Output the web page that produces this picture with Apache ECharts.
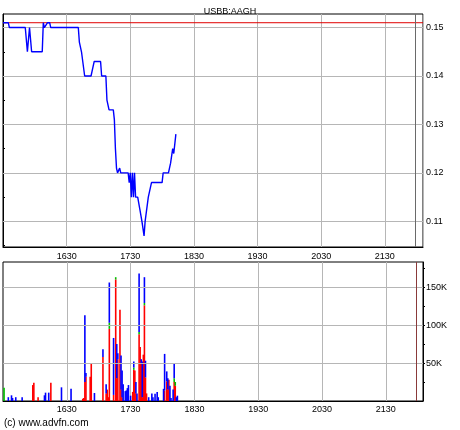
<!DOCTYPE html>
<html>
<head>
<meta charset="utf-8">
<script src="https://cdn.jsdelivr.net/npm/echarts@6/dist/echarts.min.js"></script>
<style>
html, body { margin: 0; padding: 0; background: #fff; }
#chart { width: 460px; height: 430px; }
</style>
</head>
<body>
<div id="chart"></div>
<script>
// price trace, clock times (GMT) and last trade price
const priceTimes = ['15:30', '15:35', '15:36', '15:51', '15:53', '15:54', '15:55', '15:56', '15:57', '16:07',
    '16:08', '16:09', '16:12', '16:14', '16:15', '16:41', '16:42', '16:44', '16:45', '16:47',
    '16:53', '16:56', '17:02', '17:03', '17:07', '17:08', '17:10', '17:14', '17:15', '17:16',
    '17:17', '17:18', '17:20', '17:21', '17:28', '17:29', '17:30', '17:31', '17:32', '17:33',
    '17:34', '17:35', '17:37', '17:39', '17:41', '17:43', '17:44', '17:47', '17:48', '17:50',
    '18:00', '18:01', '18:06', '18:08', '18:09', '18:10', '18:11', '18:13'];
const priceValues = [0.151, 0.151, 0.150, 0.150, 0.145, 0.145, 0.150, 0.150, 0.145, 0.145,
    0.151, 0.150, 0.151, 0.151, 0.150, 0.150, 0.147, 0.145, 0.145, 0.140,
    0.140, 0.143, 0.143, 0.140, 0.140, 0.135, 0.133, 0.133, 0.131, 0.125,
    0.121, 0.120, 0.121, 0.120, 0.120, 0.118, 0.120, 0.115, 0.120, 0.115,
    0.120, 0.115, 0.115, 0.1125, 0.110, 0.107, 0.110, 0.115, 0.115, 0.118,
    0.118, 0.120, 0.120, 0.122, 0.122, 0.125, 0.124, 0.128];

// volume per minute, split by trade type (stacked red / green / blue)
const volumeTimes = ['15:31', '15:35', '15:38', '15:39', '15:42', '15:48', '15:58', '15:59', '16:03', '16:09',
    '16:10', '16:13', '16:15', '16:25', '16:34', '16:45', '16:46', '16:47', '16:48', '16:52',
    '16:53', '16:56', '17:04', '17:07', '17:08', '17:09', '17:10', '17:14', '17:16', '17:17',
    '17:18', '17:20', '17:21', '17:22', '17:23', '17:25', '17:26', '17:27', '17:28', '17:30',
    '17:32', '17:33', '17:34', '17:35', '17:36', '17:38', '17:39', '17:40', '17:41', '17:42',
    '17:43', '17:44', '17:45', '17:47', '17:50', '17:51', '17:53', '17:55', '17:56', '18:01',
    '18:02', '18:04', '18:05', '18:06', '18:07', '18:08', '18:10', '18:11', '18:12', '18:13',
    '18:14'];
const volumeRed = [0, 0, 0, 0, 0, 0, 21000, 24000, 5000, 0,
    0, 0, 24000, 0, 0, 3000, 4000, 25000, 32000, 32000,
    50000, 0, 58000, 10000, 15000, 5000, 95000, 8000, 160000, 30000,
    55000, 120000, 15000, 5000, 0, 0, 0, 0, 0, 0,
    12000, 41000, 40000, 10000, 0, 88000, 71000, 50000, 5000, 61000,
    126000, 31000, 10000, 0, 0, 0, 0, 0, 0, 0,
    14000, 26000, 15000, 28000, 0, 0, 0, 25000, 20000, 0,
    0];
const volumeGreen = [17500, 0, 0, 0, 0, 0, 0, 0, 0, 0,
    0, 0, 0, 0, 0, 0, 0, 0, 0, 0,
    0, 0, 0, 0, 0, 0, 8000, 0, 3000, 0,
    0, 0, 0, 0, 0, 0, 0, 0, 0, 0,
    0, 3000, 0, 0, 0, 3000, 0, 0, 0, 0,
    3000, 0, 0, 0, 0, 0, 0, 0, 0, 0,
    0, 0, 0, 0, 0, 0, 0, 5000, 5000, 0,
    0];
const volumeBlue = [0, 5000, 7500, 4000, 5000, 5000, 0, 0, 0, 7500,
    11000, 11000, 0, 18000, 16000, 0, 0, 88000, 5000, 0,
    0, 10500, 10000, 12000, 0, 0, 53000, 75000, 0, 45000,
    8000, 0, 45000, 35000, 22000, 13000, 14000, 17000, 21000, 7000,
    0, 8000, 0, 15000, 10000, 77000, 0, 5000, 47000, 0,
    34000, 22000, 0, 5000, 10000, 5000, 9600, 12000, 5000, 16000,
    48000, 13000, 15000, 0, 20000, 4000, 15000, 20000, 0, 5000,
    7000];

const hourLabels = ['1630', '1730', '1830', '1930', '2030', '2130'];
const priceLabels = [0.11, 0.12, 0.13, 0.14, 0.15];
const priceTicks = [0.105, 0.11, 0.115, 0.12, 0.125, 0.13, 0.135, 0.14, 0.145, 0.15];
const volumeLabels = [50000, 100000, 150000];
const volumeTicks = [25000, 50000, 75000, 100000, 125000, 150000, 175000];
const prevClose = 0.151;
const closeTime = '21:59';

const START = 15 * 60 + 30;   // left edge of both panels
const SPAN = 396;             // minutes shown
const toMin = (t) => {
    const [h, m] = t.split(':').map(Number);
    return h * 60 + m - START;
};

// one category per minute for the volume panel, so the three parts stack
const minutes = [];
for (let i = 0; i < SPAN; i++) minutes.push(i);
const perMinute = (values) => {
    const out = minutes.map(() => 0);
    volumeTimes.forEach((t, i) => { out[toMin(t)] = values[i]; });
    return out;
};

const font = 'Liberation Sans, Arial, sans-serif';
const gridColor = '#b6b6b6';
const labelStyle = { color: '#000', fontSize: 9, fontFamily: font };
const isHour = (i) => i > 0 && i % 60 === 0;

const chart = echarts.init(document.getElementById('chart'));

const option = {
    animation: false,
    title: {
        text: 'USBB:AAGH',
        left: 'center',
        top: 2,
        textStyle: { fontSize: 9, fontWeight: 'normal', fontFamily: font, color: '#000' }
    },
    graphic: [{
        type: 'text',
        left: 4,
        top: 418,
        style: { text: '(c) www.advfn.com', fontSize: 10, fontFamily: font, fill: '#000' }
    }],
    grid: [
        { left: 3, right: 37, top: 14, height: 233, show: true, borderColor: '#000', borderWidth: 1, backgroundColor: 'transparent' },
        { left: 3, right: 37, top: 262, height: 139, show: true, borderColor: '#000', borderWidth: 1, backgroundColor: 'transparent' }
    ],
    xAxis: [
        {
            type: 'value',
            gridIndex: 0,
            min: 0,
            max: SPAN,
            interval: 60,
            axisLine: { show: true, lineStyle: { color: '#000' } },
            axisTick: { show: false },
            axisLabel: Object.assign({}, labelStyle, {
                margin: 5,
                showMinLabel: false,
                showMaxLabel: false,
                formatter: (v) => hourLabels[v / 60 - 1] || ''
            }),
            splitLine: { show: true, lineStyle: { color: gridColor, width: 1 } }
        },
        {
            type: 'category',
            gridIndex: 1,
            data: minutes,
            boundaryGap: false,
            axisLine: { show: true, lineStyle: { color: '#000' } },
            axisTick: { show: false },
            axisLabel: Object.assign({}, labelStyle, {
                margin: 4,
                interval: (i) => isHour(i),
                formatter: (v) => hourLabels[v / 60 - 1] || ''
            }),
            splitLine: { show: true, interval: (i) => isHour(i), lineStyle: { color: gridColor, width: 1 } }
        }
    ],
    yAxis: [
        {
            type: 'value',
            gridIndex: 0,
            position: 'right',
            min: 0.1047,
            max: 0.1528,
            splitNumber: 5,
            axisLine: { show: true, lineStyle: { color: '#000' } },
            axisTick: { show: true, inside: false, length: 2, customValues: priceTicks, lineStyle: { color: '#000' } },
            axisLabel: Object.assign({}, labelStyle, {
                margin: 3,
                customValues: priceLabels,
                formatter: (v) => v.toFixed(2)
            }),
            splitLine: { show: false }
        },
        {
            type: 'value',
            gridIndex: 1,
            position: 'right',
            min: 0,
            max: 183000,
            interval: 50000,
            axisLine: { show: true, lineStyle: { color: '#000' } },
            axisTick: { show: true, inside: false, length: 2, customValues: volumeTicks, lineStyle: { color: '#000' } },
            axisLabel: Object.assign({}, labelStyle, {
                margin: 3,
                customValues: volumeLabels,
                formatter: (v) => (v / 1000) + 'K'
            }),
            splitLine: { show: false }
        }
    ],
    series: [
        {
            // horizontal grid lines at the labelled prices
            type: 'line',
            xAxisIndex: 0,
            yAxisIndex: 0,
            data: [],
            markLine: {
                symbol: 'none',
                silent: true,
                label: { show: false },
                lineStyle: { color: gridColor, width: 1, type: 'solid' },
                data: priceLabels.map((p) => ({ yAxis: p }))
            }
        },
        {
            type: 'line',
            xAxisIndex: 1,
            yAxisIndex: 1,
            data: [],
            markLine: {
                symbol: 'none',
                silent: true,
                label: { show: false },
                lineStyle: { color: gridColor, width: 1, type: 'solid' },
                data: volumeLabels.map((v) => ({ yAxis: v }))
            }
        },
        {
            // market close marker, top panel
            type: 'line',
            xAxisIndex: 0,
            yAxisIndex: 0,
            data: [],
            markLine: {
                symbol: 'none',
                silent: true,
                label: { show: false },
                lineStyle: { color: '#6a6a6a', width: 1, type: 'solid' },
                data: [{ xAxis: toMin(closeTime) }]
            }
        },
        {
            // previous close
            name: 'Previous close',
            type: 'line',
            xAxisIndex: 0,
            yAxisIndex: 0,
            z: 4,
            showSymbol: false,
            silent: true,
            data: [[0, prevClose], [SPAN, prevClose]],
            lineStyle: { color: '#e00000', width: 1 }
        },
        {
            name: 'Price',
            type: 'line',
            xAxisIndex: 0,
            yAxisIndex: 0,
            z: 5,
            showSymbol: false,
            data: priceTimes.map((t, i) => [toMin(t), priceValues[i]]),
            lineStyle: { color: '#0000ff', width: 1.4 }
        },
        {
            name: 'Red',
            type: 'bar',
            xAxisIndex: 1,
            yAxisIndex: 1,
            stack: 'vol',
            barWidth: 1.6,
            itemStyle: { color: '#ff0000' },
            data: perMinute(volumeRed),
            markLine: {
                symbol: 'none',
                silent: true,
                label: { show: false },
                lineStyle: { color: '#8a3a3a', width: 1, type: 'solid' },
                data: [{ xAxis: toMin(closeTime) }]
            }
        },
        {
            name: 'Green',
            type: 'bar',
            xAxisIndex: 1,
            yAxisIndex: 1,
            stack: 'vol',
            barWidth: 1.6,
            itemStyle: { color: '#00c000' },
            data: perMinute(volumeGreen)
        },
        {
            name: 'Blue',
            type: 'bar',
            xAxisIndex: 1,
            yAxisIndex: 1,
            stack: 'vol',
            barWidth: 1.6,
            itemStyle: { color: '#0000ff' },
            data: perMinute(volumeBlue)
        }
    ]
};

chart.setOption(option);
</script>
</body>
</html>
